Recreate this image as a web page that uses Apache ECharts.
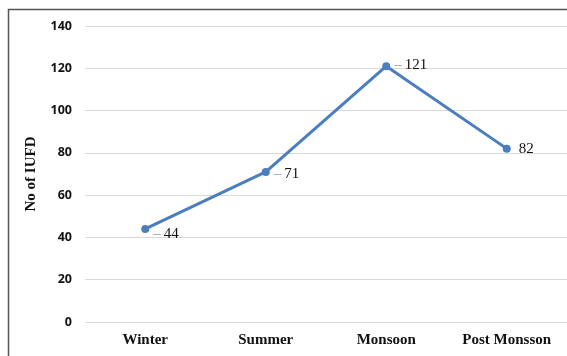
<!DOCTYPE html>
<html><head><meta charset="utf-8">
<script src="https://cdn.jsdelivr.net/npm/echarts@6/dist/echarts.min.js"></script>
<style>html,body{margin:0;padding:0;background:#fff}#c{width:567px;height:356px}</style>
</head><body><div id="c"></div>
<script>
var categories = ['Winter', 'Summer', 'Monsoon', 'Post Monsson'];
var values = [44, 71, 121, 82];
var yTicks = [0, 20, 40, 60, 80, 100, 120, 140];
var yName = 'No of IUFD';

var chart = echarts.init(document.getElementById('c'));
var labelOffsets = [[2, 5], [2, 2], [2, -1], [6, 0]];
var showLeader = [true, true, true, false];
chart.setOption({
  animation: false,
  graphic: [{
    type: 'rect', shape: {x: 8.5, y: 9.5, width: 600, height: 400},
    style: {fill: 'none', stroke: '#555', lineWidth: 1.5}, silent: true
  }],
  grid: {left: 85, right: 0, top: 26, bottom: 34},
  xAxis: {
    type: 'category', data: categories,
    axisLine: {show: false}, axisTick: {show: false},
    axisLabel: {fontFamily: 'Liberation Serif', fontWeight: 'bold', fontSize: 15, color: '#111', margin: 11}
  },
  yAxis: {
    type: 'value', min: yTicks[0], max: yTicks[yTicks.length - 1], interval: 20,
    name: yName, nameLocation: 'middle', nameGap: 46, nameRotate: 90,
    nameTextStyle: {fontFamily: 'Liberation Serif', fontWeight: 'bold', fontSize: 15, color: '#111'},
    axisLine: {show: false}, axisTick: {show: false},
    axisLabel: {fontFamily: 'Open Sans', fontWeight: 'bold', fontSize: 12.5, color: '#111', margin: 13},
    splitLine: {lineStyle: {color: '#d9d9d9', width: 1}}
  },
  series: [{
    type: 'line',
    data: values.map(function (v, i) {
      return {value: v, label: {offset: labelOffsets[i]}};
    }),
    lineStyle: {color: '#4a7ebf', width: 3},
    itemStyle: {color: '#4a7ebf'},
    symbol: 'circle', symbolSize: 8,
    label: {
      show: true, position: 'right', distance: 2,
      formatter: function (p) {
        return (showLeader[p.dataIndex] ? '{d|–}' : '') + '{v|' + p.value + '}';
      },
      rich: {
        d: {color: '#999', fontFamily: 'Liberation Serif', fontSize: 15, padding: [0, 3, 0, 0]},
        v: {color: '#111', fontFamily: 'Liberation Serif', fontSize: 15}
      }
    }
  }]
});
</script></body></html>
